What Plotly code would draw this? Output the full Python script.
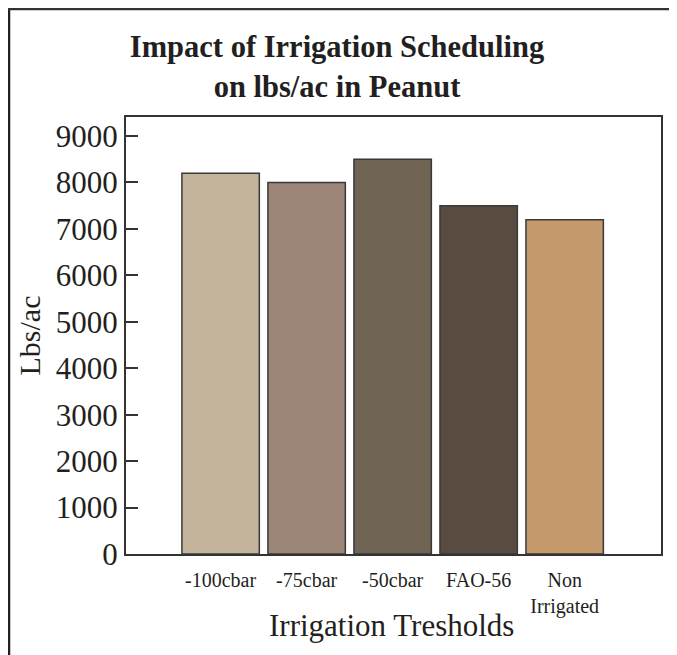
import plotly.graph_objects as go

categories = ["-100cbar", "-75cbar", "-50cbar", "FAO-56", "Non<br>Irrigated"]
yields = [8200, 8000, 8500, 7500, 7200]
bar_colors = ["#C4B49C", "#9C8677", "#706455", "#594B40", "#C49A6C"]
y_ticks = [0, 1000, 2000, 3000, 4000, 5000, 6000, 7000, 8000, 9000]
x_title = "Irrigation Tresholds"

FONT = "Liberation Serif"
OFF = 8  # page offset compensation (default body margin)
W, H = 677 - OFF, 655 - OFF
L, T = 126 - OFF, 117 - OFF
R = W - (661 - OFF)
B = H - (554 - OFF)
pw, ph = W - L - R, H - T - B

def px_x(x):
    return (x - OFF - L) / pw

def px_y(y):
    return (H - B - (y - OFF)) / ph

fig = go.Figure()
fig.add_trace(go.Bar(
    x=categories, y=yields, width=0.9,
    marker=dict(color=bar_colors, line=dict(color="#3a3a3a", width=1.5)),
))

fig.update_layout(
    width=W, height=H,
    margin=dict(l=L, r=R, t=T, b=B),
    paper_bgcolor="white", plot_bgcolor="white",
    showlegend=False,
    font=dict(family=FONT, color="#231f20"),
    title=dict(
        text="<b>Impact of Irrigation Scheduling<br>on lbs/ac in Peanut</b>",
        x=(337 - OFF) / W, xref="container", xanchor="center",
        y=1 - 49 / H, yref="container", yanchor="top",
        font=dict(family=FONT, size=30.5, color="#231f20"),
    ),
    xaxis=dict(
        range=[-1.1, 5.12],
        showline=True, linecolor="#333333", linewidth=2, mirror=True,
        ticks="outside", ticklen=7, tickcolor="rgba(0,0,0,0)", showgrid=False,
        tickfont=dict(family=FONT, size=20, color="#231f20"),
    ),
    yaxis=dict(
        range=[0, 9410],
        tickvals=y_ticks,
        showline=True, linecolor="#333333", linewidth=2, mirror=True,
        ticks="inside", ticklen=12, tickwidth=2, tickcolor="#333333",
        showgrid=False, zeroline=False,
        tickfont=dict(family=FONT, size=31, color="#231f20"),
        title=dict(text="Lbs/ac", font=dict(family=FONT, size=30, color="#231f20"), standoff=6),
    ),
    annotations=[
        dict(text=x_title, xref="paper", yref="paper",
             x=px_x(391), y=px_y(625), xanchor="center", yanchor="middle",
             showarrow=False, font=dict(family=FONT, size=31, color="#231f20")),
    ],
    shapes=[
        dict(type="line", xref="paper", yref="paper",
             x0=px_x(9), x1=px_x(9), y0=px_y(9), y1=px_y(670),
             line=dict(color="#231f20", width=2.5)),
        dict(type="line", xref="paper", yref="paper",
             x0=px_x(8), x1=px_x(690), y0=px_y(9), y1=px_y(9),
             line=dict(color="#333333", width=2.5)),
    ],
)

fig.write_html("out.html")
